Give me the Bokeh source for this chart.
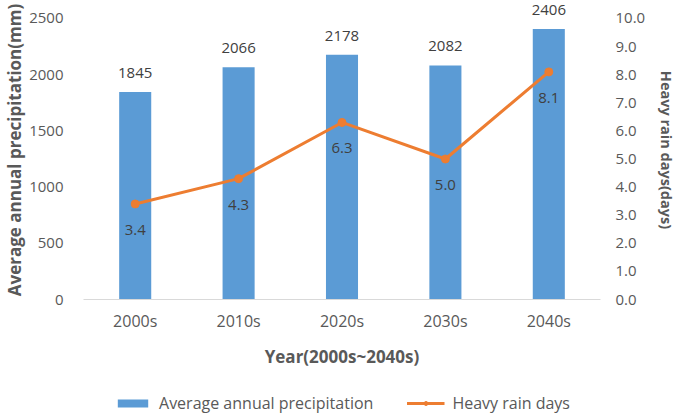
from bokeh.plotting import figure
from bokeh.layouts import column
from bokeh.models import (Range1d, LinearAxis, FixedTicker, NumeralTickFormatter,
                          Legend, LegendItem, ColumnDataSource)
from bokeh.core.properties import value
from bokeh.embed import file_html
from bokeh.resources import INLINE

# Decadal data
decades = ["2000s", "2010s", "2020s", "2030s", "2040s"]
precip_mm = [1845, 2066, 2178, 2082, 2406]
heavy_rain_days = [3.4, 4.3, 6.3, 5.0, 8.1]
left_ticks = [0, 500, 1000, 1500, 2000, 2500]
right_ticks = [0, 1, 2, 3, 4, 5, 6, 7, 8, 9, 10]

FONT = "Open Sans"
BLUE = "#5B9BD5"
ORANGE = "#ED7D31"
TICK_GRAY = "#595959"
LABEL_GRAY = "#404040"

src = ColumnDataSource(dict(
    decade=decades,
    precip=precip_mm,
    days=heavy_rain_days,
    precip_txt=[str(v) for v in precip_mm],
    days_txt=[f"{v:.1f}" for v in heavy_rain_days],
))

p = figure(x_range=decades, y_range=Range1d(0, 2660),
           width=683, height=384, output_backend="svg", toolbar_location=None,
           min_border_left=83, min_border_right=83, min_border_top=0,
           min_border_bottom=85)
p.outline_line_color = None
p.xgrid.grid_line_color = None
p.ygrid.grid_line_color = None
p.extra_y_ranges = {"days": Range1d(0, 10.64)}

# bars: precipitation
bars = p.vbar(x="decade", top="precip", width=0.31, source=src,
              fill_color=BLUE, line_color=None)
p.text(x="decade", y="precip", text="precip_txt", source=src,
       text_align="center", text_baseline="middle", y_offset=-19,
       text_font=value(FONT), text_font_size="15px", text_color=LABEL_GRAY)

# line: heavy rain days
line = p.line(x="decade", y="days", source=src, y_range_name="days",
              line_color=ORANGE, line_width=3)
dots = p.scatter(x="decade", y="days", source=src, y_range_name="days",
                 size=8, fill_color=ORANGE, line_color=ORANGE)
p.text(x="decade", y="days", text="days_txt", source=src, y_range_name="days",
       text_align="center", text_baseline="middle", y_offset=26,
       text_font=value(FONT), text_font_size="15px", text_color=LABEL_GRAY)


def style_axis(ax, label, label_size, standoff, label_standoff):
    ax.axis_label = label
    ax.major_tick_line_color = None
    ax.minor_tick_line_color = None
    ax.major_tick_out = 0
    ax.major_tick_in = 0
    ax.minor_tick_out = 0
    ax.major_label_standoff = standoff
    ax.axis_label_standoff = label_standoff
    ax.major_label_text_font = FONT
    ax.major_label_text_color = TICK_GRAY
    ax.axis_label_text_font = FONT
    ax.axis_label_text_font_size = label_size
    ax.axis_label_text_font_style = "bold"
    ax.axis_label_text_color = TICK_GRAY


# x axis
xa = p.xaxis[0]
style_axis(xa, "Year(2000s~2040s)", "17px", 10, 10)
xa.axis_line_color = "#D9D9D9"
xa.major_label_text_font_size = "16px"

# left axis
ya = p.yaxis[0]
ya.ticker = FixedTicker(ticks=left_ticks)
style_axis(ya, "Average annual precipitation(mm)", "17px", 20, 0)
ya.axis_line_color = None
ya.major_label_text_font_size = "15px"

# right axis
ra = LinearAxis(y_range_name="days", ticker=FixedTicker(ticks=right_ticks),
                formatter=NumeralTickFormatter(format="0.0"))
style_axis(ra, "Heavy rain days(days)", "14.5px", 15, 9)
ra.axis_line_color = None
ra.major_label_text_font_size = "15px"
p.add_layout(ra, "right")

# legend strip under the chart; its glyphs only feed the legend keys
leg = figure(width=683, height=30, x_range=Range1d(0, 1), y_range=Range1d(0, 1),
             x_axis_type=None, y_axis_type=None,
             output_backend="svg", toolbar_location=None,
             min_border_left=0, min_border_right=0, min_border_top=0,
             min_border_bottom=0)
leg.grid.visible = False
leg.outline_line_color = None
nan = float("nan")
k_bar = leg.vbar(x=[nan], top=[nan], width=0.1, fill_color=BLUE, line_color=None)
k_line = leg.line(x=[nan], y=[nan], line_color=ORANGE, line_width=3)
k_dot = leg.scatter(x=[nan], y=[nan], size=8, fill_color=ORANGE, line_color=ORANGE)

legend = Legend(items=[
    LegendItem(label="Average annual precipitation", renderers=[k_bar]),
    LegendItem(label="Heavy rain days", renderers=[k_line, k_dot]),
], orientation="horizontal", location="bottom_center")
legend.border_line_color = None
legend.background_fill_alpha = 0
legend.padding = 0
legend.margin = 0
legend.spacing = 33
legend.glyph_width = 38
legend.glyph_height = 10
legend.label_standoff = 8
legend.label_text_font = FONT
legend.label_text_font_size = "16px"
legend.label_text_color = TICK_GRAY
leg.add_layout(legend, "center")

page = column(p, leg, spacing=0)
open("out.html", "w").write(file_html(page, INLINE))
